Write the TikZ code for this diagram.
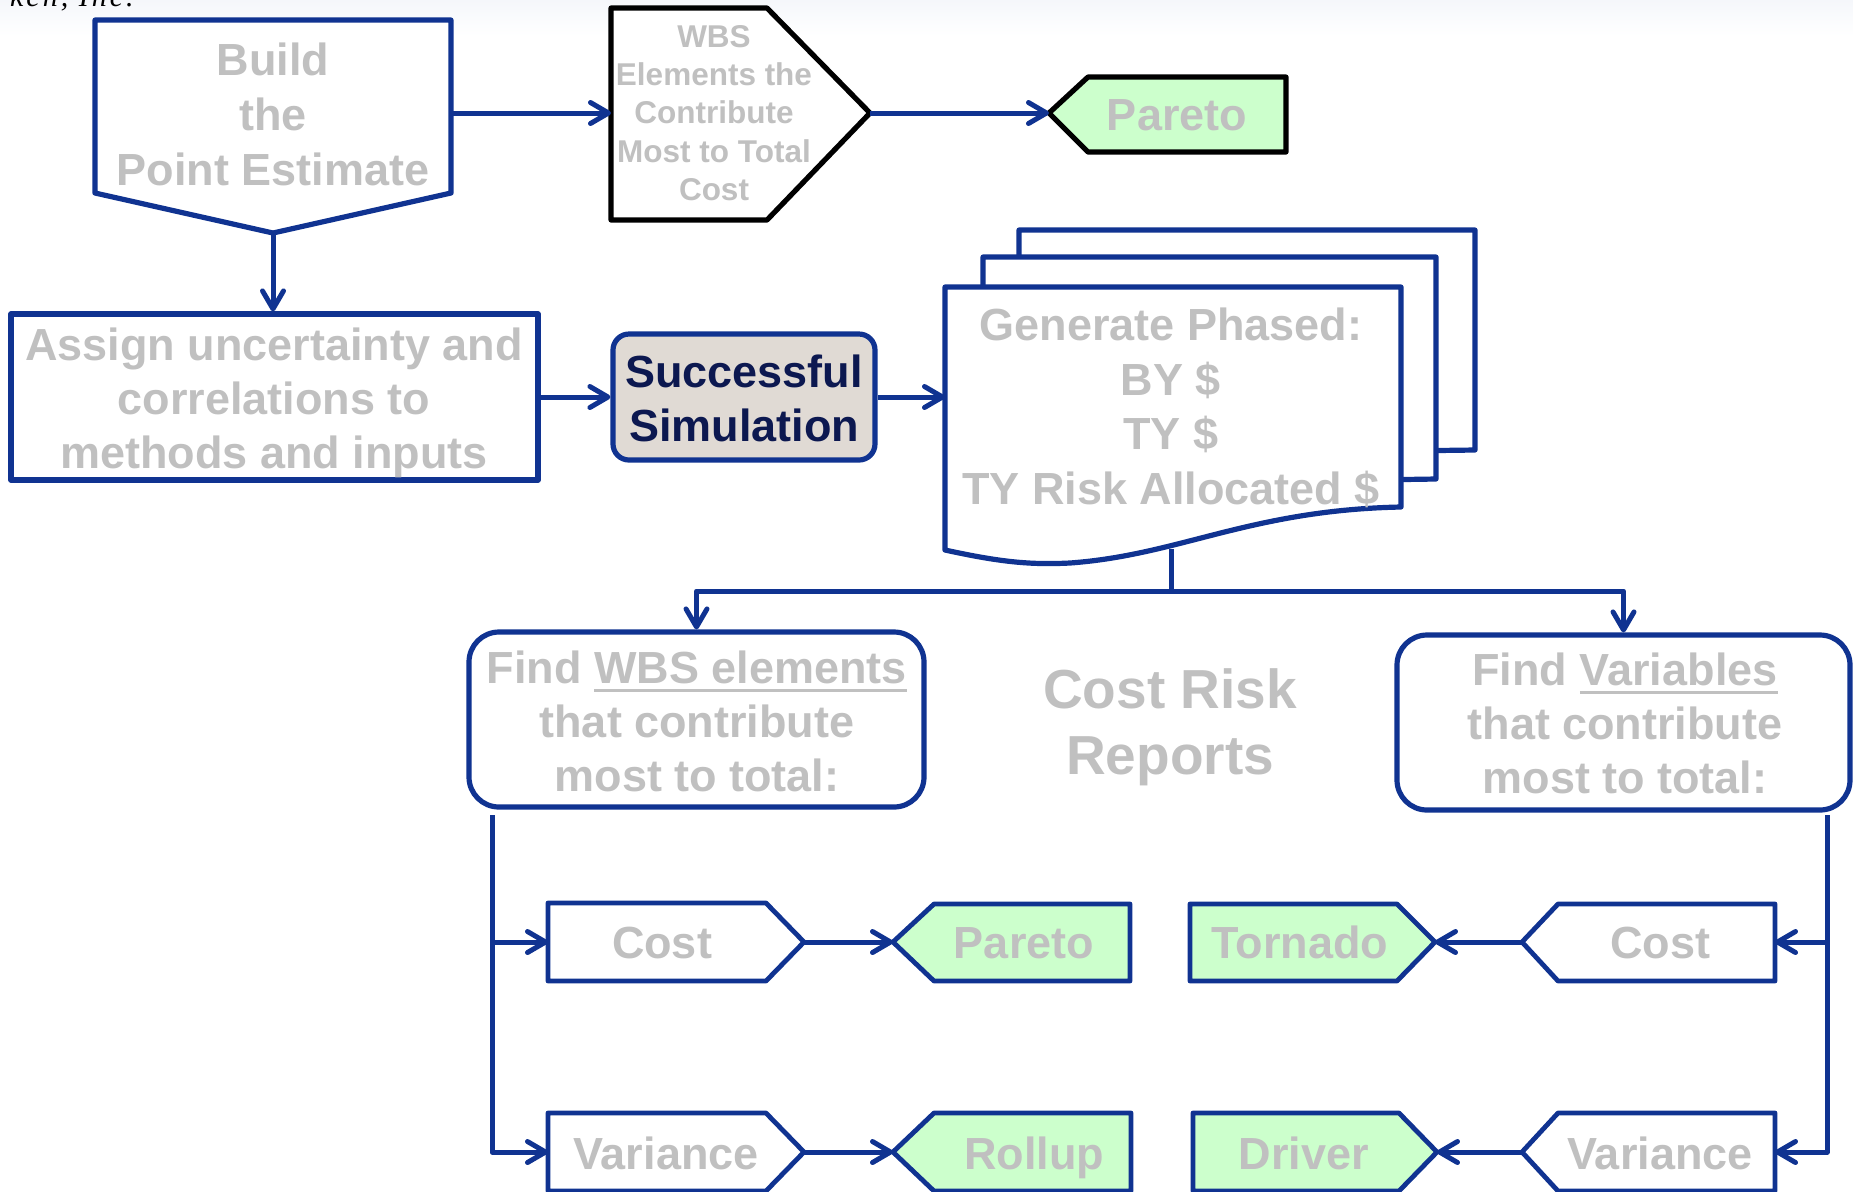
\documentclass[tikz,border=0pt]{standalone}
\usepackage{fontspec}
\setmainfont{Liberation Sans}
\newfontfamily\creditfont[LetterSpace=10]{Liberation Serif}
\usetikzlibrary{arrows.meta}

\definecolor{flowblue}{RGB}{16,51,145}
\definecolor{labelgray}{RGB}{192,192,192}
\definecolor{leafgreen}{RGB}{204,255,204}
\definecolor{simfill}{RGB}{224,218,212}
\definecolor{simtext}{RGB}{12,24,80}
\definecolor{haze}{RGB}{245,247,251}

% gray underline that follows the label colour
\newsavebox\ulbox
\newcommand\grayul[1]{\sbox\ulbox{#1}\rlap{\usebox\ulbox}\raisebox{-4.5pt}{\rule{\wd\ulbox}{1.5pt}}}

\tikzset{
  blueline/.style={draw=flowblue, line width=2.6pt},
  blackline/.style={draw=black, line width=2.6pt},
  conn/.style={draw=flowblue, line width=2.5pt,
    -{Straight Barb[length=9pt,width=10.5pt,round]}},
  label/.style={text=labelgray, align=center, inner sep=0pt,
    font=\bfseries\fontsize{22.5}{27}\selectfont},
  oneline/.style={label, text height=16.1pt, text depth=0pt},
  leaf/.style={line width=2.4pt, draw=flowblue},
}

\begin{document}
\begin{tikzpicture}[x=0.5pt, y=-0.5pt, line join=round]
\useasboundingbox (0,0) rectangle (1853,1191);
\shade[top color=haze, bottom color=white] (0,0) rectangle (1853,36);

% running credit line, cut by the page edge
\node[anchor=base east, inner sep=0pt, text=black,
      font=\creditfont\itshape\fontsize{15}{15}\selectfont] (credit) at (134,6) {rken, Inc.};

% ---- top row -------------------------------------------------------
\draw[blueline, fill=white] (95,20) -- (451,20) -- (451,193) -- (273,233) -- (95,193) -- cycle;
\node[label, font=\bfseries\fontsize{22.5}{27.5}\selectfont] (build) at (273,114)
  {Build\\the\\Point Estimate};
\coordinate (buildE) at (451,113);
\coordinate (buildS) at (273,233);

\draw[blackline, fill=white] (611,8) -- (767,8) -- (870,113) -- (767,220) -- (611,220) -- cycle;
\node[label, font=\bfseries\fontsize{15.75}{19.1}\selectfont] (wbs) at (714,113)
  {WBS\\Elements the\\Contribute\\Most to Total\\Cost};
\coordinate (wbsW) at (611,113);
\coordinate (wbsE) at (870,113);

\draw[blackline, fill=leafgreen] (1049,113) -- (1088,77) -- (1286,77) -- (1286,152) -- (1088,152) -- cycle;
\node[oneline] (paretoTop) at (1177,114) {Pareto};
\coordinate (paretoTopW) at (1049,113);

\draw[conn] (buildE) -- (wbsW);
\draw[conn] (wbsE) -- (paretoTopW);

% ---- second row ----------------------------------------------------
\node[blueline, minimum width=263.5pt, minimum height=83pt, inner sep=0pt] (assign) at (274.5,397) {};
\node[label] (assignTxt) at (274,403) {Assign uncertainty and\\correlations to\\methods and inputs};

\node[blueline, fill=simfill, rounded corners=8pt, minimum width=131pt, minimum height=63pt, inner sep=0pt] (sim) at (744,397) {};
\node[label, text=simtext] (simTxt) at (744,398) {Successful\\Simulation};

% stacked report pages
\draw[blueline, fill=white] (1019,230) -- (1475,230) -- (1475,450) -- (1019,456) -- cycle;
\draw[blueline, fill=white] (983,257) -- (1436,257) -- (1436,479) -- (983,486) -- cycle;
\draw[blueline, fill=white] (945,287) -- (1401,287) -- (1401,507)
  .. controls (1250,510) and (1180,555) .. (1070,563)
  .. controls (1030,565) and (1000,562) .. (945,550) -- cycle;
\node[label, font=\bfseries\fontsize{22.5}{27.3}\selectfont] (docTxt) at (1171,408)
  {Generate Phased:\\BY \$\\TY \$\\TY Risk Allocated \$};
\coordinate (docW) at (945,397);
\coordinate (docS) at (1171,549);
\coordinate (docSplit) at (1171,591);

\draw[conn] (buildS) -- (buildS |- assign.north);
\draw[conn] (assign.east) -- (sim.west);
\draw[conn] (sim.east) -- (docW);

% ---- report row ----------------------------------------------------
\node[blueline, rounded corners=15pt, minimum width=227.5pt, minimum height=87.5pt, inner sep=0pt] (findWBS) at (696.5,719.5) {};
\node[label] (findWBSTxt) at (697,721) {Find \grayul{WBS elements}\\that contribute\\most to total:};

\node[blueline, rounded corners=15pt, minimum width=226.5pt, minimum height=87.5pt, inner sep=0pt] (findVar) at (1623.5,722.5) {};
\node[label] (findVarTxt) at (1625,723) {Find \grayul{Variables}\\that contribute\\most to total:};

\node[label, font=\bfseries\fontsize{27.5}{33}\selectfont] (reports) at (1170,727) {Cost Risk\\Reports};

\draw[conn] (docS) -- (docSplit) -| (findWBS.north);
\draw[conn] (docSplit) -| (findVar.north);

% ---- WBS branch ----------------------------------------------------
\draw[leaf, fill=white] (548,903) -- (766,903) -- (804,942) -- (766,981) -- (548,981) -- cycle;
\node[oneline] (costL) at (662,942) {Cost};
\draw[leaf, fill=leafgreen] (893,942) -- (934,904) -- (1130,904) -- (1130,981) -- (934,981) -- cycle;
\node[oneline] (paretoL) at (1024,942) {Pareto};

\draw[leaf, fill=white] (548,1113) -- (766,1113) -- (804,1152) -- (766,1191) -- (548,1191) -- cycle;
\node[oneline] (varL) at (666,1153) {Variance};
\draw[leaf, fill=leafgreen] (893,1152) -- (934,1113) -- (1131,1113) -- (1131,1191) -- (934,1191) -- cycle;
\node[oneline] (rollup) at (1034,1153) {Rollup};

\coordinate (costLW) at (548,942);   \coordinate (costLE) at (804,942);
\coordinate (paretoLW) at (893,942);
\coordinate (varLW) at (548,1152);   \coordinate (varLE) at (804,1152);
\coordinate (rollupW) at (893,1152);
\coordinate (wbsDrop) at (492,815);
\coordinate (wbsTap) at (492,942);
\coordinate (wbsEnd) at (492,1152);

\draw[conn] (wbsDrop) -- (wbsEnd) -- (varLW);
\draw[conn] (wbsTap) -- (costLW);
\draw[conn] (costLE) -- (paretoLW);
\draw[conn] (varLE) -- (rollupW);

% ---- variable branch -----------------------------------------------
\draw[leaf, fill=leafgreen] (1190,904) -- (1397,904) -- (1435,942) -- (1397,981) -- (1190,981) -- cycle;
\node[oneline] (tornado) at (1300,942) {Tornado};
\draw[leaf, fill=white] (1522,942) -- (1558,904) -- (1775,904) -- (1775,981) -- (1558,981) -- cycle;
\node[oneline] (costR) at (1660,942) {Cost};

\draw[leaf, fill=leafgreen] (1193,1113) -- (1399,1113) -- (1437,1152) -- (1399,1191) -- (1193,1191) -- cycle;
\node[oneline] (driver) at (1304,1153) {Driver};
\draw[leaf, fill=white] (1522,1152) -- (1558,1113) -- (1775,1113) -- (1775,1191) -- (1558,1191) -- cycle;
\node[oneline] (varR) at (1660,1153) {Variance};

\coordinate (tornadoE) at (1435,942);
\coordinate (costRW) at (1522,942);  \coordinate (costRE) at (1775,942);
\coordinate (driverE) at (1437,1152);
\coordinate (varRW) at (1522,1152);  \coordinate (varRE) at (1775,1152);
\coordinate (varDrop) at (1827,815);
\coordinate (varTap) at (1827,942);
\coordinate (varEnd) at (1827,1152);

\draw[conn] (varDrop) -- (varEnd) -- (varRE);
\draw[conn] (varTap) -- (costRE);
\draw[conn] (costRW) -- (tornadoE);
\draw[conn] (varRW) -- (driverE);
\end{tikzpicture}
\end{document}
